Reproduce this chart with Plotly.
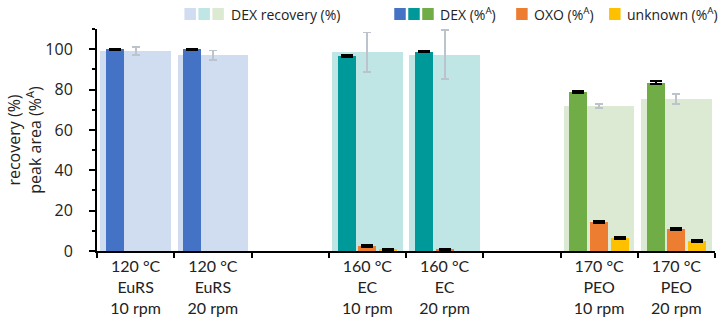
import plotly.graph_objects as go

# ---- data ----
categories = ["120 °C<br>EuRS<br>10 rpm", "120 °C<br>EuRS<br>20 rpm", "",
              "160 °C<br>EC<br>10 rpm", "160 °C<br>EC<br>20 rpm", "",
              "170 °C<br>PEO<br>10 rpm", "170 °C<br>PEO<br>20 rpm"]
recovery = [99.0, 96.9, None, 98.5, 97.3, None, 71.9, 75.2]
recovery_err = [1.9, 2.4, None, 9.8, 12.2, None, 1.0, 2.4]
dex = [99.9, 99.9, None, 96.7, 98.8, None, 78.9, 83.3]
dex_err = [0.3, 0.3, None, 0.4, 0.3, None, 0.6, 0.7]
oxo = [None, None, None, 2.5, 0.5, None, 14.2, 10.9]
oxo_err = [None, None, None, 0.4, 0.4, None, 0.5, 0.5]
unknown = [None, None, None, 0.5, None, None, 6.3, 5.1]
unknown_err = [None, None, None, 0.3, None, None, 0.4, 0.4]

group_dark = ["#4472C4", "#4472C4", "#4472C4", "#009999", "#009999", "#009999", "#70AD47", "#70AD47"]
group_light = ["#D0DCF0", "#D0DCF0", "#D0DCF0", "#BFE5E5", "#BFE5E5", "#BFE5E5", "#DCEAD4", "#DCEAD4"]
legend_light = ["#D0DCF0", "#BFE5E5", "#DCEAD4"]
legend_dark = ["#4472C4", "#009999", "#70AD47"]
OXO_C = "#ED7D31"
UNK_C = "#FFC000"

# category index positions and tick labels derived from the category list
xpos = list(range(len(categories)))
label_pos = [i for i, c in enumerate(categories) if c]
label_txt = [c for c in categories if c]
boundaries = [i - 0.5 for i in range(len(categories) + 1)]

W, H = 721, 322
ML, MR, MT, MB = 96.5, 6, 29, 71

fig = go.Figure()

wide = 0.91
nw = 0.233
step = 0.268

fig.add_trace(go.Bar(x=xpos, y=recovery, width=wide, offset=-wide / 2,
                     marker=dict(color=group_light, line=dict(width=0)),
                     error_y=dict(type="data", array=recovery_err, color="#BCC3CC",
                                  thickness=1.8, width=4),
                     showlegend=False, name="DEX recovery (%)"))
fig.add_trace(go.Bar(x=xpos, y=dex, width=nw, offset=-step - nw / 2,
                     marker=dict(color=group_dark, line=dict(width=0)),
                     error_y=dict(type="data", array=dex_err, color="black",
                                  thickness=2, width=6),
                     showlegend=False, name="DEX (%A)"))
fig.add_trace(go.Bar(x=xpos, y=oxo, width=nw, offset=-nw / 2,
                     marker=dict(color=OXO_C, line=dict(width=0)),
                     error_y=dict(type="data", array=oxo_err, color="black",
                                  thickness=2, width=6),
                     showlegend=False, name="OXO (%A)"))
fig.add_trace(go.Bar(x=xpos, y=unknown, width=nw, offset=step - nw / 2,
                     marker=dict(color=UNK_C, line=dict(width=0)),
                     error_y=dict(type="data", array=unknown_err, color="black",
                                  thickness=2, width=6),
                     showlegend=False, name="unknown (%A)"))

# ---- legend drawn as swatches + text in paper coordinates ----
PW = W - ML - MR
PH = H - MT - MB


def px2x(px):
    return (px - ML) / PW


def py2y(py):
    return (H - MB - py) / PH


shapes = []
annotations = []
sw_top, sw_bot = 8, 20


def swatch(x0, color):
    shapes.append(dict(type="rect", xref="paper", yref="paper",
                       x0=px2x(x0), x1=px2x(x0 + 11.5), y0=py2y(sw_bot), y1=py2y(sw_top),
                       fillcolor=color, line=dict(width=0), layer="above"))


def label(x0, text):
    annotations.append(dict(xref="paper", yref="paper", x=px2x(x0), y=py2y(14),
                            xanchor="left", yanchor="middle", text=text, showarrow=False,
                            font=dict(family="Open Sans", size=14, color="#222222")))


for i, c in enumerate(legend_light):
    swatch(184 + 14 * i, c)
label(229, "DEX recovery (%)")
for i, c in enumerate(legend_dark):
    swatch(394 + 14 * i, c)
label(438, "DEX (%<sup>A</sup>)")
swatch(516, OXO_C)
label(532, "OXO (%<sup>A</sup>)")
swatch(609, UNK_C)
label(625, "unknown (%<sup>A</sup>)")

fig.update_layout(
    width=W, height=H,
    margin=dict(l=ML, r=MR, t=MT, b=MB),
    paper_bgcolor="white", plot_bgcolor="white",
    barmode="overlay",
    bargap=0,
    shapes=shapes,
    annotations=annotations,
    font=dict(family="Open Sans", size=15, color="#222222"),
    xaxis=dict(range=[-0.5, len(categories) - 0.5],
               tickvals=label_pos, ticktext=label_txt,
               showline=True, linecolor="black", linewidth=2,
               ticks="", showgrid=False, zeroline=False,
               minor=dict(tickvals=boundaries, ticks="outside", ticklen=5, tickwidth=2,
                          tickcolor="black", showgrid=False),
               tickfont=dict(family="Lato", size=16, color="#222222")),
    yaxis=dict(range=[0, 110], tickvals=[0, 20, 40, 60, 80, 100],
               showline=True, linecolor="black", linewidth=2,
               ticks="outside", ticklen=6, tickwidth=2, tickcolor="black",
               ticklabelstandoff=13,
               minor=dict(dtick=10, tick0=0, ticks="outside", ticklen=3, tickwidth=2,
                          tickcolor="black"),
               showgrid=False, zeroline=False,
               tickfont=dict(family="Open Sans", size=16, color="#222222"),
               title=dict(text="recovery (%)<br>peak area (%<sup>A</sup>)",
                          font=dict(family="Open Sans", size=16, color="#222222"),
                          standoff=0)),
)

fig.write_html("out.html")
